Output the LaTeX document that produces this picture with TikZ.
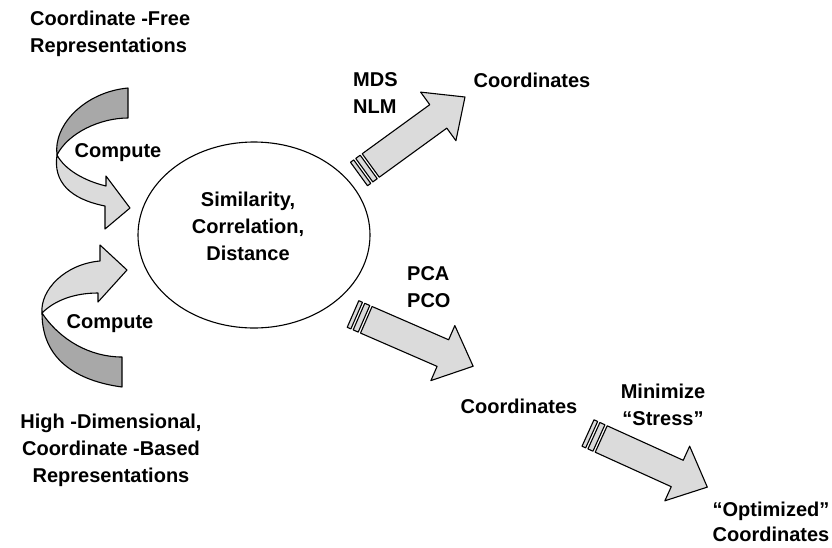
\documentclass[tikz,border=0pt]{standalone}
\usepackage{fontspec}
\setmainfont{Liberation Sans}
\usetikzlibrary{shapes.geometric}
\definecolor{lightfill}{gray}{0.86}
\definecolor{darkfill}{gray}{0.66}
\tikzset{
  lbl/.style={font=\bfseries\fontsize{20}{27}\selectfont, inner sep=0pt},
  shapeline/.style={draw=black, line width=1.1pt, line join=round},
  pics/stripearrow/.style={code={
    \filldraw[shapeline, fill=lightfill] (0,-14.5) rectangle (4,14.5);
    \filldraw[shapeline, fill=lightfill] (6.5,-14.5) rectangle (12,14.5);
    \filldraw[shapeline, fill=lightfill] (14.5,-14.5) -- (98,-14.5) -- (98,-30) -- (131,0) -- (98,30) -- (98,14.5) -- (14.5,14.5) -- cycle;
  }}
}
\begin{document}
\begin{tikzpicture}[x=1pt,y=-1pt]
\useasboundingbox (0,0) rectangle (832,547);

% central ellipse
\node[ellipse, shapeline, minimum width=232pt, minimum height=186pt, inner sep=0pt] (sim) at (254,235) {};
\node[lbl, align=center] (simtext) at ([xshift=-6pt,yshift=9pt]sim.center) {Similarity,\\Correlation,\\Distance};

% top curved arrow
\filldraw[shapeline, fill=darkfill] (128,88) -- (128,118) .. controls (100,118) and (68,133) .. (57,155) .. controls (53,125) and (85,92) .. (128,88) -- cycle;
\filldraw[shapeline, fill=lightfill] (57,155) .. controls (53,182) and (70,199) .. (105,206) -- (105,229) -- (130,208) -- (106,176) -- (106,186) .. controls (85,181) and (65,170) .. (57,155) -- cycle;

% bottom curved arrow
\filldraw[shapeline, fill=darkfill] (42,313) .. controls (60,340) and (90,357) .. (122,357) -- (122,387) .. controls (85,382) and (42,365) .. (42,313) -- cycle;
\filldraw[shapeline, fill=lightfill] (42,313) .. controls (40,290) and (65,264) .. (100,261) -- (100,245) -- (127,270) -- (98,302) -- (98,293) .. controls (75,293) and (55,300) .. (42,313) -- cycle;

% striped arrows
\coordinate (tailA) at (359,174);
\coordinate (tailB) at (353,314);
\coordinate (tailC) at (588,433);
\pic[rotate=36] at (tailA) {stripearrow};
\pic[rotate=-23.5] at (tailB) {stripearrow};
\pic[rotate=-24.4] at (tailC) {stripearrow};

% labels
\node[lbl, align=left, anchor=west] (cfree) at (30,34) {Coordinate -Free\\Representations};
\node[lbl] (comp1) at (118,153) {Compute};
\node[lbl] (comp2) at (110,324) {Compute};
\node[lbl, align=center] (hdim) at (111,450) {High -Dimensional,\\Coordinate -Based\\Representations};
\node[lbl, align=left, anchor=west] (mds) at (353,93) {MDS\\NLM};
\node[lbl] (coord1) at (532,80) {Coordinates};
\node[lbl, align=left, anchor=west] (pca) at (407,287) {PCA\\PCO};
\node[lbl] (coord2) at (519,406) {Coordinates};
\node[lbl, align=center] (minim) at (663,405) {Minimize\\“Stress”};
\node[lbl, align=center, font=\bfseries\fontsize{20}{25}\selectfont] (opt) at (771,522) {“Optimized”\\Coordinates};
\end{tikzpicture}
\end{document}
